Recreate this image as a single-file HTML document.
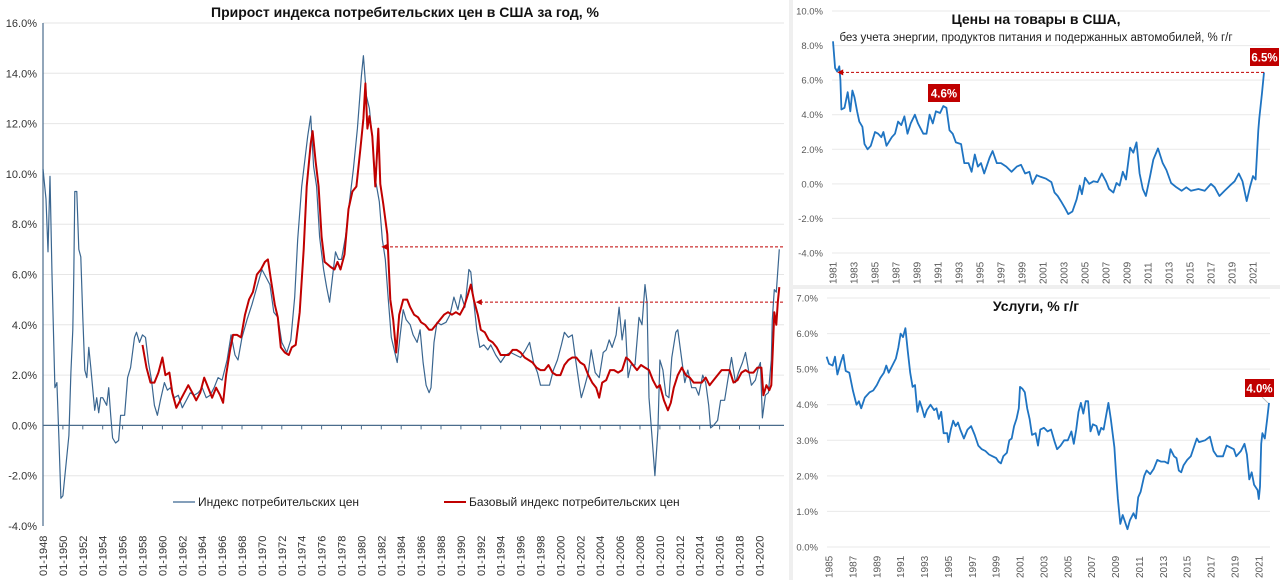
<!DOCTYPE html>
<html><head><meta charset="utf-8">
<style>
html,body{margin:0;padding:0;background:#efefef;width:1280px;height:580px;overflow:hidden;font-family:"Liberation Sans","Noto Sans CJK SC",sans-serif;}
svg{position:absolute;left:0;top:0;}
</style></head>
<body>
<svg id="chart" width="1280" height="580" viewBox="0 0 1280 580" xmlns="http://www.w3.org/2000/svg">
<rect x="0" y="0" width="789" height="580" fill="#ffffff"/>
<rect x="793" y="0" width="487" height="285" fill="#ffffff"/>
<rect x="793" y="289" width="487" height="291" fill="#ffffff"/>
<text x="405" y="17" text-anchor="middle" font-size="14" font-weight="bold" fill="#111">Прирост индекса потребительских цен  в США за год, %</text>
<text x="1036" y="24" text-anchor="middle" font-size="14" font-weight="bold" fill="#111">Цены на товары в США,</text>
<text x="1036" y="41" text-anchor="middle" font-size="11.5" fill="#222">без учета энергии, продуктов питания и подержанных автомобилей, % г/г</text>
<text x="1036" y="311" text-anchor="middle" font-size="14" font-weight="bold" fill="#111">Услуги, % г/г</text>
<g id="left"></g>
<g id="goods"></g>
<g id="serv"></g>
<g>
<line x1="173" y1="502" x2="195" y2="502" stroke="#3a6690" stroke-width="1.3"/>
<text x="198" y="506" font-size="12" fill="#222">Индекс потребительских цен</text>
<line x1="444" y1="502" x2="466" y2="502" stroke="#c00000" stroke-width="2"/>
<text x="469" y="506" font-size="12" fill="#222">Базовый индекс потребительских цен</text>
</g>
</svg>
<script>
// ---- left chart data ----
const cpiYears=[1948.0,1948.3,1948.5,1948.7,1948.9,1949.2,1949.4,1949.6,1949.8,1950.0,1950.2,1950.4,1950.6,1950.8,1951.0,1951.1,1951.2,1951.4,1951.6,1951.8,1952.0,1952.2,1952.4,1952.6,1952.8,1953.2,1953.4,1953.6,1953.8,1954.0,1954.4,1954.6,1954.8,1955.0,1955.3,1955.6,1955.8,1956.2,1956.5,1956.8,1957.2,1957.4,1957.7,1958.0,1958.3,1958.6,1958.9,1959.2,1959.5,1959.8,1960.2,1960.5,1960.8,1961.2,1961.6,1962.0,1962.4,1962.8,1963.2,1963.6,1964.0,1964.4,1964.8,1965.2,1965.6,1966.0,1966.5,1966.9,1967.3,1967.6,1968.0,1968.5,1969.0,1969.5,1970.0,1970.4,1970.8,1971.2,1971.6,1972.0,1972.5,1972.9,1973.3,1973.6,1974.0,1974.3,1974.6,1974.9,1975.2,1975.5,1975.8,1976.2,1976.5,1976.8,1977.1,1977.4,1977.7,1978.0,1978.4,1978.8,1979.2,1979.6,1980.0,1980.2,1980.5,1980.8,1981.1,1981.4,1981.8,1982.1,1982.4,1982.7,1983.0,1983.3,1983.6,1983.9,1984.2,1984.5,1984.9,1985.2,1985.6,1985.9,1986.2,1986.5,1986.8,1987.0,1987.3,1987.6,1988.0,1988.5,1988.9,1989.3,1989.7,1990.0,1990.4,1990.8,1991.0,1991.3,1991.6,1991.9,1992.3,1992.7,1993.0,1993.5,1994.0,1994.5,1995.0,1995.5,1996.0,1996.5,1996.9,1997.3,1997.7,1998.0,1998.5,1998.9,1999.3,1999.7,2000.1,2000.4,2000.8,2001.2,2001.5,2001.9,2002.1,2002.4,2002.8,2003.1,2003.5,2003.9,2004.3,2004.6,2004.9,2005.2,2005.6,2005.9,2006.2,2006.5,2006.8,2007.1,2007.5,2007.9,2008.2,2008.5,2008.7,2008.9,2009.2,2009.5,2009.8,2010.0,2010.3,2010.6,2010.9,2011.2,2011.6,2011.8,2012.1,2012.5,2012.8,2013.2,2013.6,2013.9,2014.3,2014.6,2014.9,2015.1,2015.4,2015.8,2016.1,2016.5,2016.9,2017.2,2017.6,2017.9,2018.3,2018.6,2018.9,2019.2,2019.6,2019.9,2020.1,2020.3,2020.6,2020.9,2021.2,2021.3,2021.5,2021.7,2022.0];
const cpiValues=[10.2,9,6.9,9.9,6,1.5,1.7,-0.5,-2.9,-2.8,-2.0,-1.2,-0.4,2.1,3.8,6,9.3,9.3,7,6.7,4.3,2.2,1.9,3.1,2.3,0.6,1.1,0.5,1.1,1.1,0.8,1.5,0.4,-0.5,-0.7,-0.6,0.4,0.4,1.9,2.3,3.5,3.7,3.3,3.6,3.5,2.5,1.8,0.8,0.4,1.0,1.7,1.4,1.5,1.1,1.2,0.7,1.0,1.3,1.2,1.3,1.5,1.1,1.2,1.5,1.9,1.8,2.6,3.6,2.8,2.6,3.5,4.2,4.8,5.5,6.2,5.9,5.6,4.5,4.3,3.3,2.9,3.4,5.1,7.4,9.5,10.5,11.5,12.3,10.3,9.5,7.5,6.2,5.5,4.9,5.9,6.9,6.6,6.6,7.5,8.9,10.2,11.8,13.9,14.7,13.1,12.6,11.4,9.8,8.9,7.4,6.6,5.0,3.5,3.0,2.5,3.6,4.6,4.2,4.0,3.6,3.3,3.8,2.5,1.6,1.3,1.5,3.3,4.1,4.0,4.1,4.4,5.1,4.6,5.2,4.7,6.2,6.1,4.9,3.8,3.1,3.2,3.0,3.2,2.8,2.5,2.8,2.9,2.8,2.7,3.0,3.3,2.5,2.1,1.6,1.6,1.6,2.2,2.6,3.2,3.7,3.5,3.6,2.7,1.6,1.1,1.5,2.1,3.0,2.1,1.9,2.9,3.0,3.4,3.1,3.6,4.7,3.4,4.2,1.9,2.4,2.4,4.3,4.0,5.6,4.9,1.1,-0.4,-2.0,-0.2,2.6,2.2,1.2,1.1,2.7,3.7,3.8,2.9,1.7,2.2,1.5,1.5,1.2,2.0,1.7,0.8,-0.1,0.0,0.2,1.0,1.0,2.0,2.7,1.7,2.1,2.5,2.9,2.2,1.6,1.8,2.3,2.5,0.3,1.2,1.3,2.6,4.2,5.4,5.3,7.0];
const coreYears=[1958.0,1958.4,1958.8,1959.2,1959.6,1960.0,1960.3,1960.7,1961.0,1961.4,1961.8,1962.2,1962.6,1963.0,1963.4,1963.8,1964.2,1964.6,1965.0,1965.4,1965.8,1966.1,1966.4,1966.8,1967.1,1967.5,1967.9,1968.3,1968.7,1969.1,1969.5,1969.9,1970.3,1970.6,1970.9,1971.3,1971.6,1971.9,1972.3,1972.7,1973.0,1973.4,1973.8,1974.2,1974.5,1974.9,1975.1,1975.4,1975.7,1976.0,1976.3,1976.6,1976.9,1977.3,1977.6,1977.9,1978.3,1978.7,1979.1,1979.5,1979.9,1980.2,1980.4,1980.6,1980.8,1981.1,1981.4,1981.7,1981.9,1982.2,1982.6,1982.9,1983.2,1983.5,1983.8,1984.2,1984.6,1984.9,1985.3,1985.7,1986.0,1986.4,1986.8,1987.1,1987.5,1987.9,1988.3,1988.7,1989.1,1989.5,1989.9,1990.3,1990.7,1991.0,1991.3,1991.7,1992.0,1992.4,1992.8,1993.2,1993.6,1994.0,1994.4,1994.8,1995.2,1995.6,1996.0,1996.4,1996.8,1997.2,1997.6,1998.0,1998.4,1998.8,1999.2,1999.6,2000.0,2000.4,2000.8,2001.2,2001.6,2002.0,2002.4,2002.8,2003.2,2003.6,2003.9,2004.2,2004.6,2005.0,2005.4,2005.8,2006.2,2006.6,2006.9,2007.3,2007.7,2008.1,2008.5,2008.9,2009.3,2009.7,2010.0,2010.4,2010.8,2011.1,2011.4,2011.8,2012.2,2012.6,2013.0,2013.4,2013.8,2014.2,2014.6,2015.0,2015.4,2015.8,2016.2,2016.6,2017.0,2017.4,2017.8,2018.2,2018.6,2019.0,2019.4,2019.8,2020.2,2020.4,2020.7,2021.0,2021.2,2021.35,2021.5,2021.7,2021.85,2022.0];
const coreValues=[3.2,2.3,1.7,1.7,2.1,2.7,2.0,2.1,1.3,0.7,1.0,1.3,1.6,1.3,1.0,1.3,1.9,1.5,1.1,1.5,1.2,0.9,2.0,3.0,3.6,3.6,3.5,4.4,5.0,5.3,6.0,6.2,6.5,6.6,5.8,4.8,4.3,3.1,2.9,2.8,3.1,3.2,4.5,7.0,9.5,11.2,11.7,10.5,9.5,7.5,6.5,6.4,6.3,6.2,6.5,6.2,6.8,8.6,9.3,9.5,11.0,12.2,13.6,11.8,12.3,11.5,9.5,11.8,9.6,8.8,7.6,5.0,4.2,2.9,4.4,5.0,5.0,4.7,4.4,4.3,4.1,4.0,3.8,3.8,4.0,4.2,4.4,4.5,4.4,4.5,4.4,4.7,5.2,5.6,5.0,4.4,3.8,3.7,3.4,3.3,3.1,2.8,2.8,2.8,3.0,3.0,2.9,2.7,2.6,2.5,2.3,2.2,2.2,2.4,2.1,2.0,2.0,2.4,2.6,2.7,2.7,2.5,2.4,2.0,1.7,1.5,1.1,1.7,1.8,2.2,2.2,2.1,2.2,2.7,2.6,2.4,2.2,2.4,2.3,2.2,1.8,1.5,1.6,1.0,0.6,0.9,1.5,2.0,2.3,2.0,1.9,1.7,1.7,1.7,1.9,1.6,1.8,2.0,2.2,2.2,2.2,1.7,1.8,2.1,2.2,2.1,2.1,2.3,2.3,1.2,1.6,1.4,1.6,3.0,4.5,4.0,4.9,5.5];
const leftYTicks=[16,14,12,10,8,6,4,2,0,-2,-4];
const leftXTickYears=[1948,1950,1952,1954,1956,1958,1960,1962,1964,1966,1968,1970,1972,1974,1976,1978,1980,1982,1984,1986,1988,1990,1992,1994,1996,1998,2000,2002,2004,2006,2008,2010,2012,2014,2016,2018,2020];
const leftArrowValues=[7.1,4.9];
const leftArrowTargetYears=[1982.0,1991.5];

// ---- goods chart data ----
const goodsYears=[1981.0,1981.2,1981.4,1981.6,1981.7,1981.8,1982.1,1982.4,1982.65,1982.85,1983.05,1983.3,1983.5,1983.8,1984.0,1984.3,1984.6,1985.0,1985.3,1985.6,1985.8,1986.1,1986.6,1986.9,1987.2,1987.5,1987.8,1988.1,1988.4,1988.8,1989.1,1989.6,1989.9,1990.2,1990.5,1990.8,1991.2,1991.5,1991.8,1992.1,1992.4,1992.7,1993.2,1993.5,1993.9,1994.2,1994.5,1994.8,1995.1,1995.4,1995.9,1996.2,1996.6,1997.0,1997.5,1998.0,1998.5,1998.9,1999.3,1999.7,2000.0,2000.4,2000.8,2001.3,2001.8,2002.1,2002.4,2002.7,2003.1,2003.4,2003.8,2004.2,2004.5,2004.7,2005.0,2005.4,2005.8,2006.2,2006.6,2007.0,2007.3,2007.7,2008.0,2008.3,2008.6,2008.9,2009.3,2009.6,2009.9,2010.2,2010.5,2010.8,2011.2,2011.5,2011.95,2012.4,2012.75,2013.2,2013.7,2014.2,2014.65,2015.1,2015.8,2016.4,2017.0,2017.35,2017.8,2018.3,2018.8,2019.25,2019.65,2020.0,2020.4,2020.7,2021.0,2021.25,2021.5,2021.6,2021.85,2022.05];
const goodsValues=[8.25,6.7,6.5,6.8,6.0,4.3,4.4,5.3,4.2,5.4,5.0,4.2,3.6,3.3,2.3,2.0,2.2,3.0,2.9,2.7,3.0,2.2,2.7,2.9,3.6,3.4,3.9,2.9,3.5,4.0,3.5,2.9,2.9,4.0,3.5,4.2,4.1,4.5,4.4,3.1,2.9,2.4,2.3,1.2,1.2,0.7,1.7,1.0,1.2,0.6,1.5,1.9,1.2,1.2,1.0,0.7,1.0,1.1,0.6,0.7,0.0,0.5,0.4,0.3,0.1,-0.5,-0.7,-1.0,-1.4,-1.75,-1.6,-0.9,-0.1,-0.6,0.35,0.0,0.15,0.1,0.6,0.15,-0.3,-0.5,0.05,-0.1,0.7,0.25,2.1,1.8,2.4,0.6,-0.3,-0.7,0.45,1.4,2.05,1.2,0.8,0.05,-0.2,-0.4,-0.2,-0.4,-0.3,-0.4,0.0,-0.2,-0.7,-0.4,-0.1,0.15,0.6,0.15,-1.0,-0.2,0.45,0.25,3.1,3.8,5.2,6.45];
const goodsYTicks=[10,8,6,4,2,0,-2,-4];
const goodsXTickYears=[1981,1983,1985,1987,1989,1991,1993,1995,1997,1999,2001,2003,2005,2007,2009,2011,2013,2015,2017,2019,2021];

// ---- services chart data ----
const servYears=[1984.8,1985.0,1985.3,1985.5,1985.7,1986.0,1986.2,1986.4,1986.7,1987.0,1987.3,1987.5,1987.7,1988.0,1988.4,1988.7,1989.0,1989.3,1989.6,1989.8,1990.0,1990.3,1990.6,1990.8,1991.0,1991.2,1991.4,1991.6,1991.8,1992.0,1992.2,1992.4,1992.6,1992.8,1993.0,1993.2,1993.5,1993.8,1994.0,1994.2,1994.4,1994.6,1994.9,1995.0,1995.2,1995.4,1995.6,1995.8,1996.0,1996.3,1996.6,1996.9,1997.2,1997.5,1997.8,1998.1,1998.4,1998.7,1999.0,1999.2,1999.4,1999.6,1999.9,2000.1,2000.3,2000.5,2000.7,2000.9,2001.0,2001.2,2001.4,2001.6,2001.8,2002.0,2002.3,2002.5,2002.7,2003.0,2003.3,2003.6,2003.9,2004.1,2004.4,2004.7,2005.0,2005.3,2005.5,2005.7,2005.9,2006.1,2006.3,2006.5,2006.7,2006.9,2007.1,2007.4,2007.6,2007.8,2008.0,2008.4,2008.6,2008.9,2009.05,2009.2,2009.4,2009.6,2009.8,2010.0,2010.2,2010.5,2010.7,2010.9,2011.1,2011.4,2011.6,2011.9,2012.2,2012.5,2012.8,2013.1,2013.4,2013.6,2013.9,2014.1,2014.3,2014.5,2014.7,2015.0,2015.3,2015.6,2015.8,2016.0,2016.5,2016.9,2017.2,2017.5,2018.0,2018.3,2018.9,2019.1,2019.5,2019.8,2020.0,2020.2,2020.4,2020.6,2020.9,2021.0,2021.1,2021.2,2021.3,2021.5,2021.7,2021.85];
const servValues=[5.35,5.15,5.1,5.35,4.85,5.2,5.4,4.95,4.9,4.4,4.0,4.1,3.9,4.2,4.35,4.4,4.55,4.75,4.9,5.1,4.9,5.1,5.3,5.6,6.0,5.9,6.15,5.5,4.9,4.5,4.55,3.8,4.1,3.9,3.65,3.85,4.0,3.85,3.9,3.6,3.8,3.2,3.2,2.95,3.3,3.55,3.4,3.5,3.3,3.05,3.3,3.4,3.15,2.85,2.75,2.7,2.6,2.55,2.5,2.4,2.35,2.55,2.65,3.0,3.05,3.4,3.6,3.9,4.5,4.45,4.35,3.9,3.6,3.15,3.2,2.85,3.3,3.35,3.25,3.3,2.95,2.75,2.85,3.0,3.0,3.25,2.9,3.3,3.8,4.05,3.75,4.1,4.1,3.25,3.45,3.4,3.15,3.35,3.3,4.05,3.6,2.8,2.0,1.35,0.65,0.9,0.7,0.5,0.75,0.95,0.8,1.4,1.55,2.0,2.15,2.05,2.2,2.45,2.4,2.4,2.35,2.75,2.55,2.5,2.15,2.1,2.3,2.45,2.55,2.85,3.05,2.95,3.0,3.1,2.7,2.55,2.55,2.85,2.75,2.55,2.7,2.9,2.6,1.9,2.1,1.75,1.6,1.35,1.7,2.9,3.2,3.05,3.6,4.05];
const servYTicks=[7,6,5,4,3,2,1,0];
const servXTickYears=[1985,1987,1989,1991,1993,1995,1997,1999,2001,2003,2005,2007,2009,2011,2013,2015,2017,2019,2021];

const NS="http://www.w3.org/2000/svg";
function mk(tag,attrs,parent){const e=document.createElementNS(NS,tag);for(const k in attrs)e.setAttribute(k,attrs[k]);parent.appendChild(e);return e;}
function linePath(xs,ys,sx,sy){let d="";for(let i=0;i<xs.length;i++){d+=(i?"L":"M")+sx(xs[i]).toFixed(1)+","+sy(ys[i]).toFixed(1);}return d;}

// ===== LEFT CHART =====
(function(){
  const g=document.getElementById('left');
  const x0=43,yr0=1948,pxYr=9.95;
  const sx=y=>x0+(y-yr0)*pxYr;
  const top=23,bot=526,vmax=16,vmin=-4;
  const sy=v=>top+(vmax-v)*(bot-top)/(vmax-vmin);
  const right=784;
  leftYTicks.forEach(v=>{
    if(v!==0&&v!==-4){const l=mk('line',{x1:x0,x2:right,y1:sy(v),y2:sy(v),stroke:'#e6e6e6','stroke-width':1},g);
    
    }
    const t=mk('text',{x:37,y:sy(v)+4,'text-anchor':'end','font-size':11,fill:'#333'},g);
    
    
    t.textContent=v.toFixed(1)+'%';
  });
  const ax=mk('line',{x1:x0,x2:x0,y1:top,y2:bot,stroke:'#4a6c8c','stroke-width':1.2},g);
  
  
  const zl=mk('line',{x1:x0,x2:right,y1:sy(0),y2:sy(0),stroke:'#4a6c8c','stroke-width':1.2},g);
  
  
  leftXTickYears.forEach(y=>{
    const tk=mk('line',{x1:sx(y),x2:sx(y),y1:sy(0),y2:sy(0)+4,stroke:'#4a6c8c','stroke-width':1},g);
    
    
    const t=mk('text',{transform:'translate('+(sx(y)+4)+',576) rotate(-90)','font-size':11,fill:'#333'},g);
    
    
    t.textContent='01-'+y;
  });
  const p1=mk('path',{d:linePath(cpiYears,cpiValues,sx,sy),fill:'none',stroke:'#3a6690','stroke-width':1.2,'stroke-linejoin':'round'},g);
  
  
  const p2=mk('path',{d:linePath(coreYears,coreValues,sx,sy),fill:'none',stroke:'#c00000','stroke-width':2,'stroke-linejoin':'round'},g);
  
  
  leftArrowValues.forEach((v,i)=>{
    const xa=sx(leftArrowTargetYears[i]);
    const a=mk('line',{x1:right-1,x2:xa+5,y1:sy(v),y2:sy(v),stroke:'#c00000','stroke-width':1,'stroke-dasharray':'3,2'},g);
    
    
    const h=mk('path',{d:'M'+xa+','+sy(v)+'l6,-3v6z',fill:'#c00000'},g);
    
    
  });
})();

function smallChart(id,years,values,yTicks,xTicks,cfg){
  const g=document.getElementById(id);
  const sx=y=>cfg.x0+(y-cfg.yr0)*cfg.pxYr;
  const vmax=yTicks[0],vmin=yTicks[yTicks.length-1];
  const sy=v=>cfg.top+(vmax-v)*(cfg.bot-cfg.top)/(vmax-vmin);
  yTicks.forEach(v=>{
    const l=mk('line',{x1:cfg.left,x2:cfg.right,y1:sy(v),y2:sy(v),stroke:'#e9e9e9','stroke-width':1},g);
    
    
    const t=mk('text',{x:cfg.left-9,y:sy(v)+3.5,'text-anchor':'end','font-size':9.5,fill:'#595959'},g);
    
    
    t.textContent=v.toFixed(1)+'%';
  });
  xTicks.forEach(y=>{
    const t=mk('text',{transform:'translate('+(sx(y)+3.5)+','+cfg.labY+') rotate(-90)','font-size':10,fill:'#595959'},g);
    
    
    t.textContent=y;
  });
  const p=mk('path',{d:linePath(years,values,sx,sy),fill:'none',stroke:'#1f74c2','stroke-width':1.8,'stroke-linejoin':'round'},g);
  
  
  return {sx,sy};
}
function badge(g,x,y,w,txt,name){
  const r=mk('rect',{x:x,y:y,width:w,height:18,fill:'#c00000'},g);
  
  
  const t=mk('text',{x:x+w/2,y:y+13.5,'text-anchor':'middle','font-size':11.5,'font-weight':'bold',fill:'#fff'},g);
  
  
  t.textContent=txt;
}
(function(){
  const s=smallChart('goods',goodsYears,goodsValues,goodsYTicks,goodsXTickYears,{x0:833,yr0:1981,pxYr:10.5,top:11,bot:253,left:832,right:1270,labY:284,name:'goods'});
  const g=document.getElementById('goods');
  const lastV=goodsValues[goodsValues.length-1];
  const lastY=goodsYears[goodsYears.length-1];
  const a=mk('line',{x1:s.sx(lastY),x2:s.sx(1981.4)+5,y1:s.sy(lastV),y2:s.sy(lastV),stroke:'#c00000','stroke-width':1,'stroke-dasharray':'3,2'},g);
  
  
  const h=mk('path',{d:'M'+s.sx(1981.4)+','+s.sy(lastV)+'l6,-3v6z',fill:'#c00000'},g);
  
  
  badge(g,1250,48,29,'6.5%','goods-latest-badge');
  badge(g,928,84,32,'4.6%','goods-1991-badge');
})();
(function(){
  const s=smallChart('serv',servYears,servValues,servYTicks,servXTickYears,{x0:829,yr0:1985,pxYr:11.94,top:298,bot:547,left:827,right:1270,labY:578,name:'services'});
  const g=document.getElementById('serv');
  const l=mk('line',{x1:1262,y1:397,x2:1268,y2:s.sy(4.05),stroke:'#bbb','stroke-width':1},g);
  
  
  badge(g,1245,379,29,'4.0%','services-latest-badge');
})();
</script>
</body></html>
